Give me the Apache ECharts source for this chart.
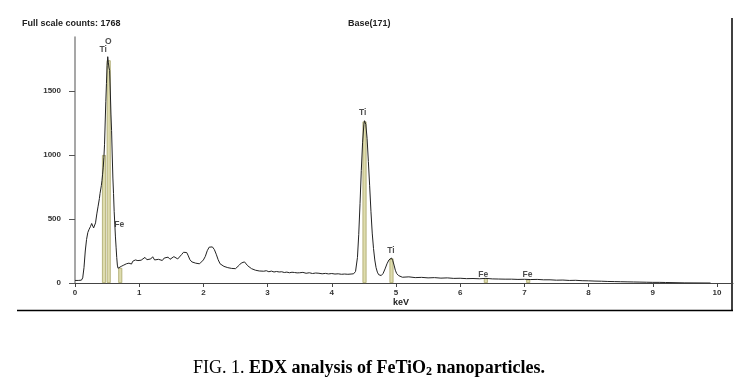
<!DOCTYPE html>
<html><head><meta charset="utf-8">
<script src="https://cdn.jsdelivr.net/npm/echarts@6/dist/echarts.min.js"></script>
<style>html,body{margin:0;padding:0;background:#fff}#c{width:738px;height:381px}</style>
</head><body><div id="c"></div>
<script>
// Spectrum (keV, counts) — one line per segment, equal lengths per line
const energies = [
  0.00,0.05,0.10,0.12,0.14,0.16,0.18,0.20,0.22,0.24,0.26,0.27,0.28,0.29,0.30,0.32,0.34,0.36,0.38,0.39,0.40,0.41,0.42,0.43,0.44,0.45,0.46,0.47,0.48,0.49,0.50,0.51,0.52,0.53,0.54,0.55,0.56,0.57,0.58,0.59,0.60,0.61,0.62,0.63,0.64,0.65,0.66,0.67,0.68,0.69,0.70,
  0.72,0.74,0.76,0.78,0.80,0.82,0.84,0.86,0.88,0.90,0.92,0.94,0.96,0.98,1.00,1.03,1.06,1.09,1.12,1.15,1.18,1.21,1.24,1.27,1.30,1.33,1.36,1.39,1.42,1.45,1.48,1.51,1.54,1.57,1.60,1.63,1.66,
  1.69,1.72,1.74,1.76,1.79,1.82,1.85,1.88,1.91,1.94,1.97,2.00,2.03,2.06,2.09,2.12,2.14,2.17,2.20,2.23,2.26,2.29,2.32,2.35,2.38,2.41,2.44,2.47,2.50,2.53,2.56,2.59,2.62,2.64,2.66,2.69,
  2.72,2.75,2.78,2.81,2.84,2.87,2.90,2.94,2.98,3.02,3.06,3.10,3.14,3.18,3.22,3.26,3.30,3.34,3.38,3.42,3.46,3.50,3.55,3.60,3.65,3.70,3.75,3.80,3.85,3.90,3.95,4.00,4.05,4.10,4.15,4.20,4.25,4.30,4.34,
  4.37,4.40,4.42,4.44,4.46,4.48,4.50,4.51,4.52,4.53,4.55,4.57,4.59,4.61,4.63,4.65,4.67,4.69,4.71,4.73,4.75,4.77,4.80,4.83,4.86,4.89,4.91,4.93,4.95,4.97,4.99,5.01,5.04,5.07,5.10,
  5.20,5.30,5.40,5.50,5.60,5.70,5.80,5.90,6.00,6.10,6.20,6.30,6.40,6.50,6.60,6.70,6.80,6.90,7.00,7.10,7.20,7.30,7.40,7.50,7.60,7.70,7.80,7.90,8.00,8.10,8.20,8.30,8.40,8.50,8.60,8.70,8.80,8.90,9.00,9.10,9.20,9.30,9.50,9.90
];
const counts = [
  20,20,22,40,120,250,340,395,420,440,465,450,470,430,415,470,540,600,660,700,690,760,800,850,905,980,1080,1250,1420,1560,1700,1768,1720,1680,1660,1500,1320,1190,1000,820,700,560,460,360,280,200,140,115,100,128,112,
  130,122,140,135,150,138,155,160,148,170,165,180,168,175,190,178,185,200,182,195,188,205,180,192,185,198,176,195,190,202,185,192,206,195,188,200,222,
  240,252,238,218,182,165,152,155,142,150,160,180,208,252,280,292,282,262,225,182,150,142,130,128,120,126,114,118,112,125,140,156,170,165,158,135,
  120,112,108,100,104,94,98,92,96,88,93,86,90,86,88,82,85,80,84,82,79,80,83,76,80,74,78,76,72,75,71,74,70,72,68,70,68,70,72,
  90,200,380,620,880,1100,1240,1268,1275,1240,1130,950,760,560,390,270,180,120,85,65,55,58,75,110,150,180,192,195,175,140,100,75,58,48,45,
  48,42,44,40,42,38,40,36,37,34,35,33,36,32,31,30,30,28,29,27,28,25,25,22,23,20,21,18,17,15,14,12,11,10,9,8,7,6,5,5,4,3,1,0
];

// Element line markers
const lineEnergies = [0.452, 0.525, 0.705, 4.51, 4.93, 6.40, 7.06];
const lineHeights  = [1000, 1740, 118, 1262, 192, 36, 28];

// Element labels
const labelTexts    = ['O', 'Ti', 'Fe', 'Ti', 'Ti', 'Fe', 'Fe'];
const labelEnergies = [0.52, 0.44, 0.69, 4.48, 4.92, 6.36, 7.05];
const labelCounts   = [1885, 1822, 452, 1330, 252, 68, 68];

const xTicks = [0,1,2,3,4,5,6,7,8,9,10];
const yTicks = [0,500,1000,1500];

const chart = echarts.init(document.getElementById('c'));
const axisFont = {fontFamily:'Liberation Sans, Arial', fontWeight:'bold', fontSize:8, color:'#333'};
const serif = 'Liberation Serif, Times New Roman';
chart.setOption({
  animation:false,
  backgroundColor:'#fff',
  title:{
    left:'center', top:352,
    text:'{a|FIG. 1. }{b|EDX analysis of FeTiO}{s|2}{b| nanoparticles.}',
    textStyle:{fontWeight:'normal', rich:{
      a:{fontFamily:serif,fontSize:18,fontWeight:'normal',color:'#000',lineHeight:22},
      b:{fontFamily:serif,fontSize:18,fontWeight:'bold',color:'#000',lineHeight:22},
      s:{fontFamily:serif,fontSize:12,fontWeight:'bold',color:'#000',lineHeight:22,padding:[8,0,0,0]}
    }}
  },
  grid:{left:75, right:5, top:37, bottom:98},
  xAxis:{
    type:'value', min:0, max:10.25,
    axisLine:{show:true, lineStyle:{color:'#444', width:1}},
    axisTick:{show:true, length:4, customValues:xTicks, lineStyle:{color:'#444'}},
    axisLabel:Object.assign({margin:6, customValues:xTicks, formatter:v=>String(v)}, axisFont),
    splitLine:{show:false}
  },
  yAxis:{
    type:'value', min:0, max:1922,
    axisLine:{show:true, lineStyle:{color:'#8a8a8a', width:1.5}},
    axisTick:{show:true, length:6, customValues:yTicks, lineStyle:{color:'#555'}},
    axisLabel:Object.assign({margin:14, customValues:yTicks, formatter:v=>String(v)}, axisFont),
    splitLine:{show:false}
  },
  series:[
    {
      type:'bar', barWidth:4, barGap:'-100%',
      data: lineEnergies.map((e,i)=>[e, lineHeights[i]]),
      itemStyle:{color:'#dedcae', borderColor:'#a9a66a', borderWidth:0.8},
      z:1
    },
    {
      type:'line', showSymbol:false, symbol:'none',
      data: energies.map((e,i)=>[e, counts[i]]),
      lineStyle:{color:'#222', width:1},
      z:3
    },
    {
      type:'scatter', symbolSize:0,
      data: labelEnergies.map((e,i)=>[e, labelCounts[i], labelTexts[i]]),
      label:{show:true, position:'inside', formatter:p=>p.data[2],
        fontFamily:'Liberation Sans, Arial', fontWeight:'bold', fontSize:8.5, color:'#222'},
      z:4
    }
  ],
  graphic:[
    {type:'text', left:22, top:19, style:{text:'Full scale counts: 1768', font:'bold 9px "Liberation Sans", Arial', fill:'#222'}},
    {type:'text', left:348, top:19, style:{text:'Base(171)', font:'bold 9px "Liberation Sans", Arial', fill:'#222'}},
    {type:'text', left:393, top:298, style:{text:'keV', font:'bold 9px "Liberation Sans", Arial', fill:'#222'}},
    {type:'line', shape:{x1:732, y1:18, x2:732, y2:311}, style:{stroke:'#000', lineWidth:1.5}},
    {type:'line', shape:{x1:17, y1:310.5, x2:733, y2:310.5}, style:{stroke:'#000', lineWidth:1.5}}
  ]
});
</script></body></html>
